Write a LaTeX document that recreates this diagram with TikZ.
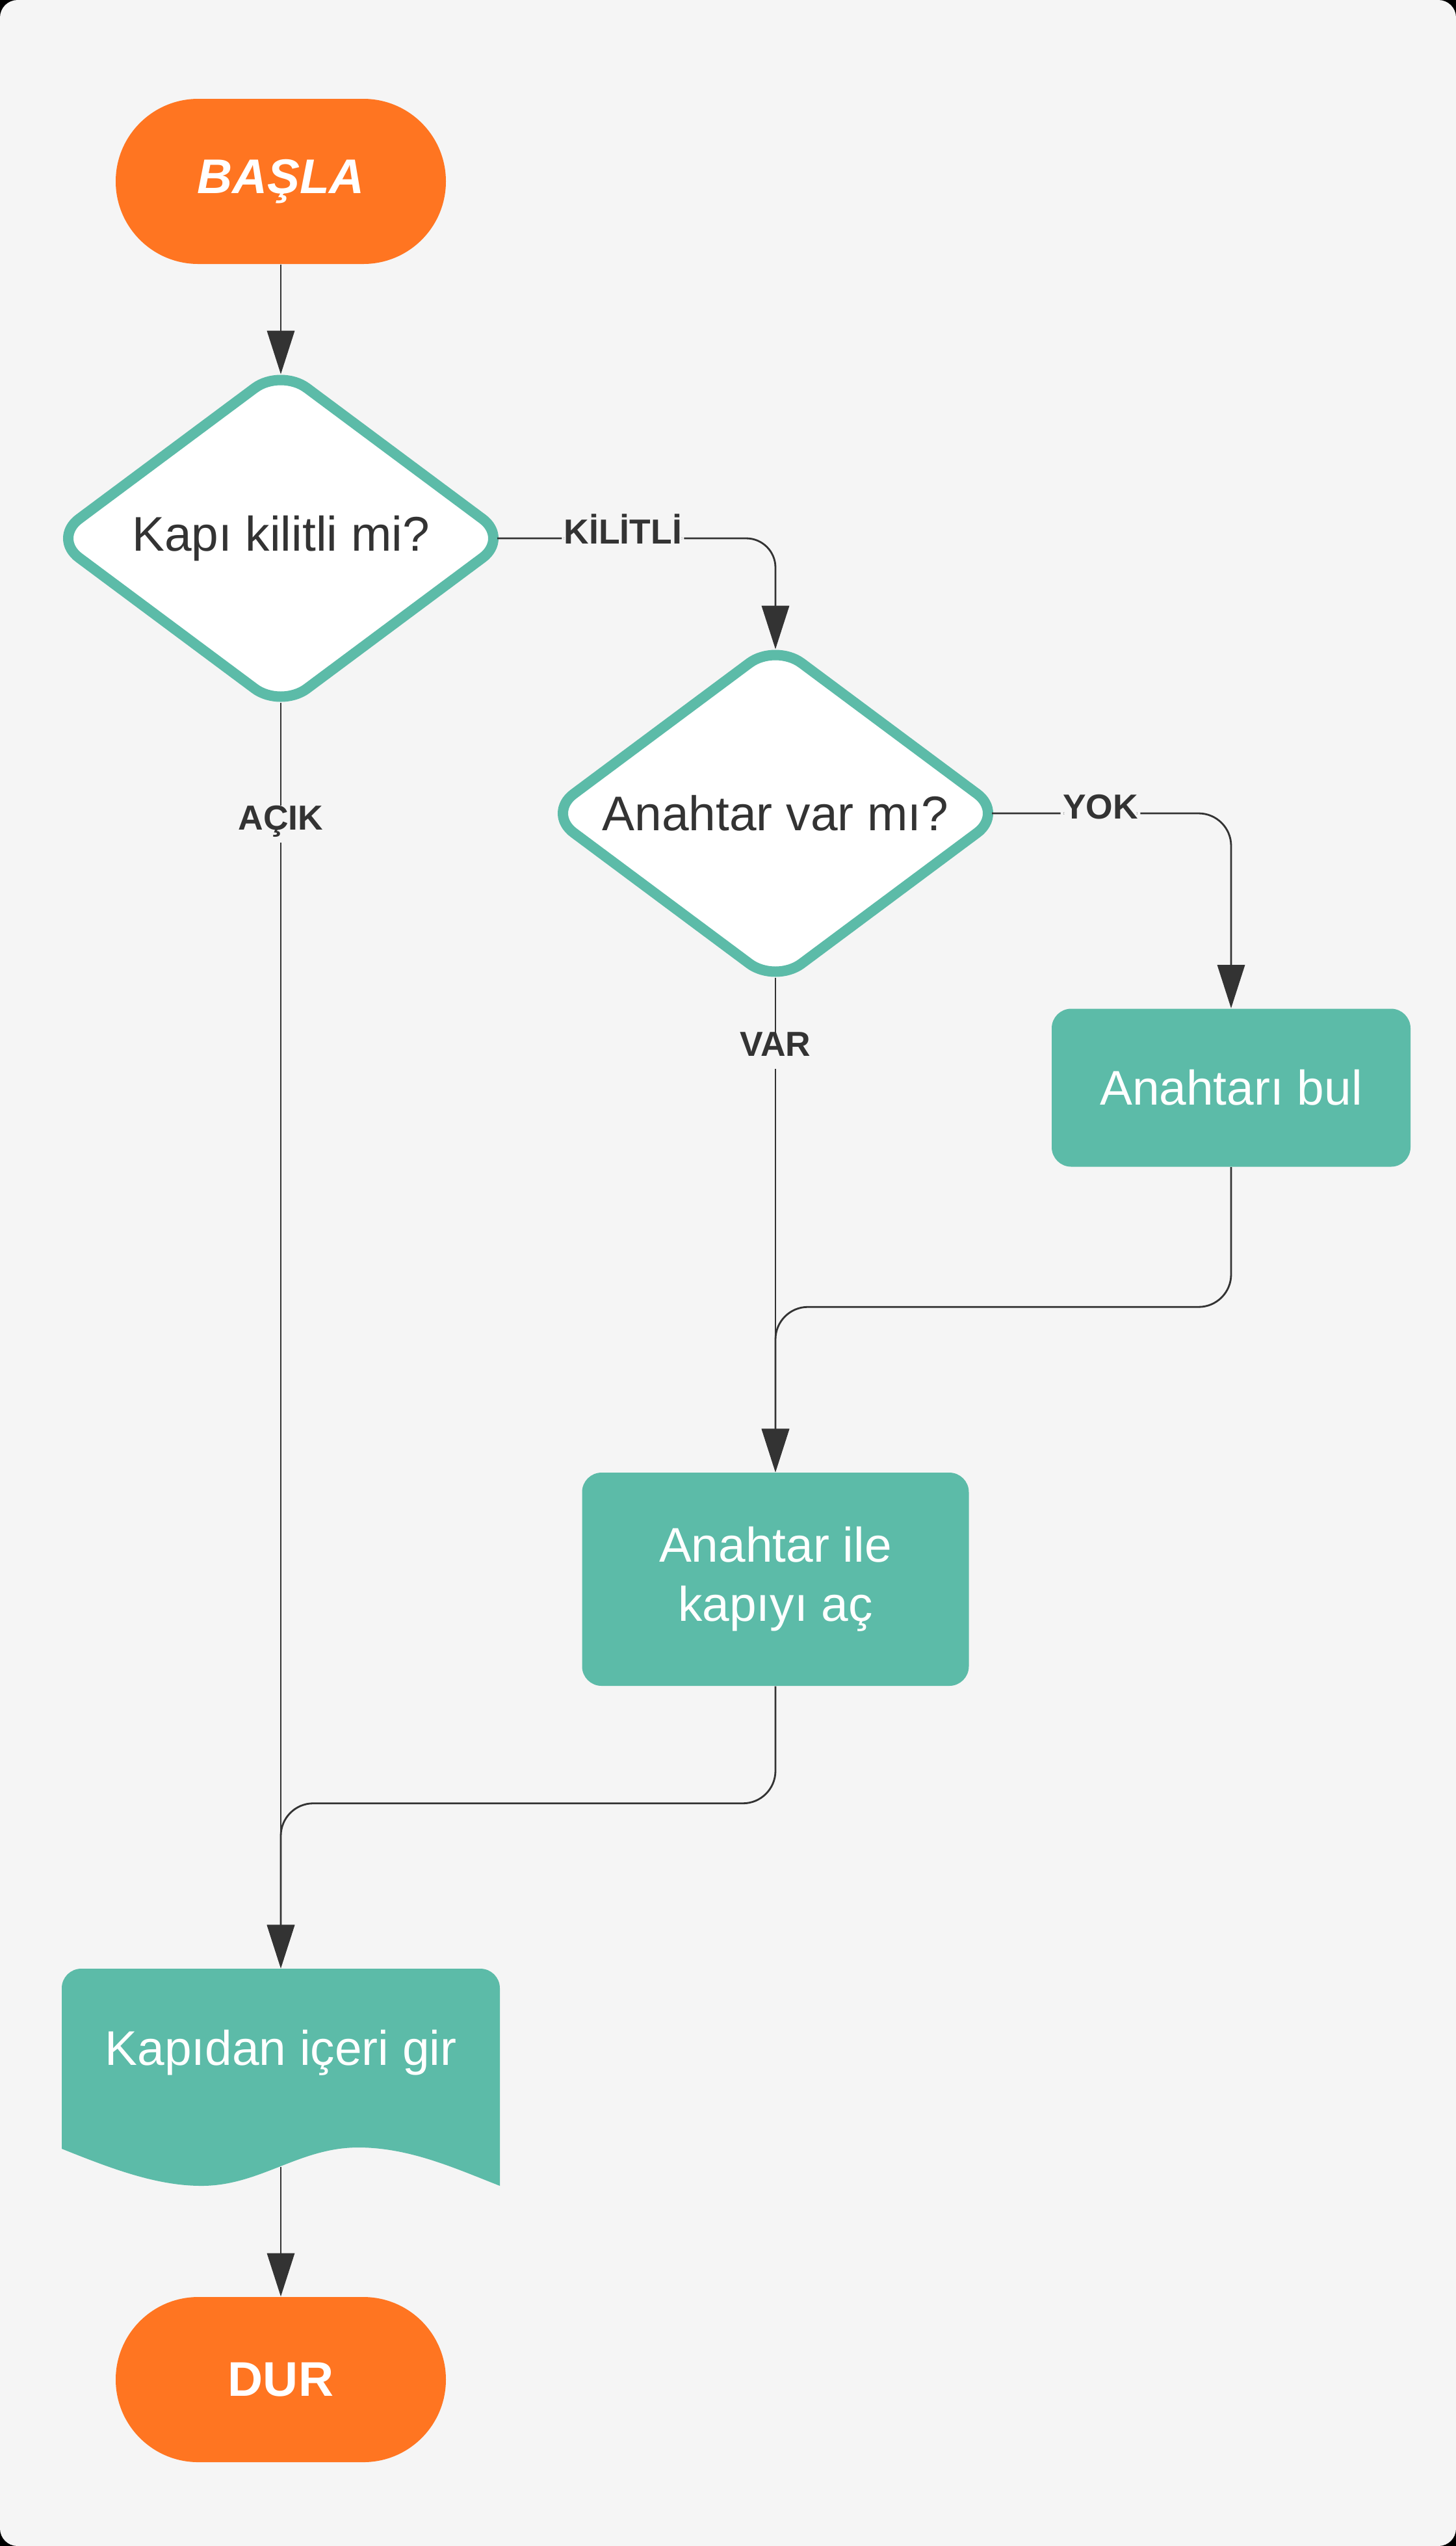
\documentclass[tikz,border=0pt]{standalone}
\usepackage{fontspec}
\setmainfont{Liberation Sans}
\usetikzlibrary{shapes.geometric,arrows.meta}
\definecolor{bgc}{HTML}{F5F5F5}
\definecolor{orng}{HTML}{FF7521}
\definecolor{tealc}{HTML}{5CBBA8}
\definecolor{ink}{HTML}{333333}

\begin{document}
\begin{tikzpicture}[
    terminal/.style={fill=orng, text=white, rounded corners=1.27cm, minimum width=5.08cm, minimum height=2.54cm, font=\fontsize{21.3}{26}\selectfont\bfseries},
    decision/.style={diamond, shape aspect=1.346, draw=tealc, fill=white, line width=0.16cm, rounded corners=0.5cm, minimum width=6.96cm, minimum height=5.17cm, inner sep=0pt, outer sep=-0.06cm, text=ink, font=\fontsize{21.3}{26}\selectfont},
    process/.style={fill=tealc, text=white, rounded corners=0.3cm, align=center, font=\fontsize{21.3}{26}\selectfont},
    lbl/.style={fill=bgc, text=ink, inner xsep=1pt, inner ysep=3pt, text height=0.75em, text depth=0.25em, font=\fontsize{15.2}{18}\selectfont\bfseries},
    arr/.style={draw=ink, line width=0.8pt, -{Triangle[width=12pt,length=19pt]}}
  ]
        % page
        \fill[black] (0,0) rectangle (22.4,-39.16);
        \fill[bgc, rounded corners=0.27cm] (0,0) rectangle (22.4,-39.16);

        \node[terminal] (start) at (4.32,-2.79) {\itshape BAŞLA};
        \node[decision] (locked) at (4.32,-8.28) {Kapı kilitli mi?};
        \node[decision] (haskey) at (11.93,-12.51) {Anahtar var mı?};
        \node[process, minimum width=5.52cm, minimum height=2.43cm] (findkey) at (18.94,-16.73) {Anahtarı bul};
        \node[process, minimum width=5.95cm, minimum height=3.28cm] (openkey) at (11.93,-24.29) {Anahtar ile\\kapıyı aç};

        % document shape
        \fill[tealc] (0.95,-33.05) -- (0.95,-30.58) arc[start angle=180, end angle=90, radius=0.3]
          -- (7.39,-30.28) arc[start angle=90, end angle=0, radius=0.3] -- (7.69,-33.62)
          .. controls (7.0,-33.35) and (6.3,-33.03) .. (5.51,-33.03)
          .. controls (4.6,-33.03) and (4.0,-33.62) .. (3.10,-33.62)
          .. controls (2.4,-33.62) and (1.7,-33.35) .. (0.95,-33.05) -- cycle;
        \node[text=white, minimum width=6.74cm, minimum height=2.58cm, font=\fontsize{21.3}{26}\selectfont] (doc) at (4.32,-31.57) {Kapıdan içeri gir};
        \coordinate (docout) at (4.32,-33.33);

        \node[terminal] (stop) at (4.32,-36.60) {DUR};

        \draw[arr] (start) -- (locked.north);
        \draw[arr, rounded corners=0.45cm, shorten <=-0.09cm] (locked.east) -| node[lbl, pos=0.22] {KİLİTLİ} (haskey.north);
        \draw[arr, rounded corners=0.5cm, shorten <=-0.09cm] (haskey.east) -| node[lbl, pos=0.22] {YOK} (findkey.north);
        \draw[arr] (haskey.south) -- node[lbl, pos=0.148] {VAR} (openkey.north);
        \draw[arr, rounded corners=0.5cm] (findkey.south) -- ++(0,-2.15) -| (openkey.north);
        \draw[arr] (locked.south) -- node[lbl, pos=0.096] {AÇIK} (doc.north);
        \draw[arr, rounded corners=0.5cm] (openkey.south) -- ++(0,-1.80) -| (doc.north);
        \draw[arr] (docout) -- (stop.north);
      \end{tikzpicture}
\end{document}
